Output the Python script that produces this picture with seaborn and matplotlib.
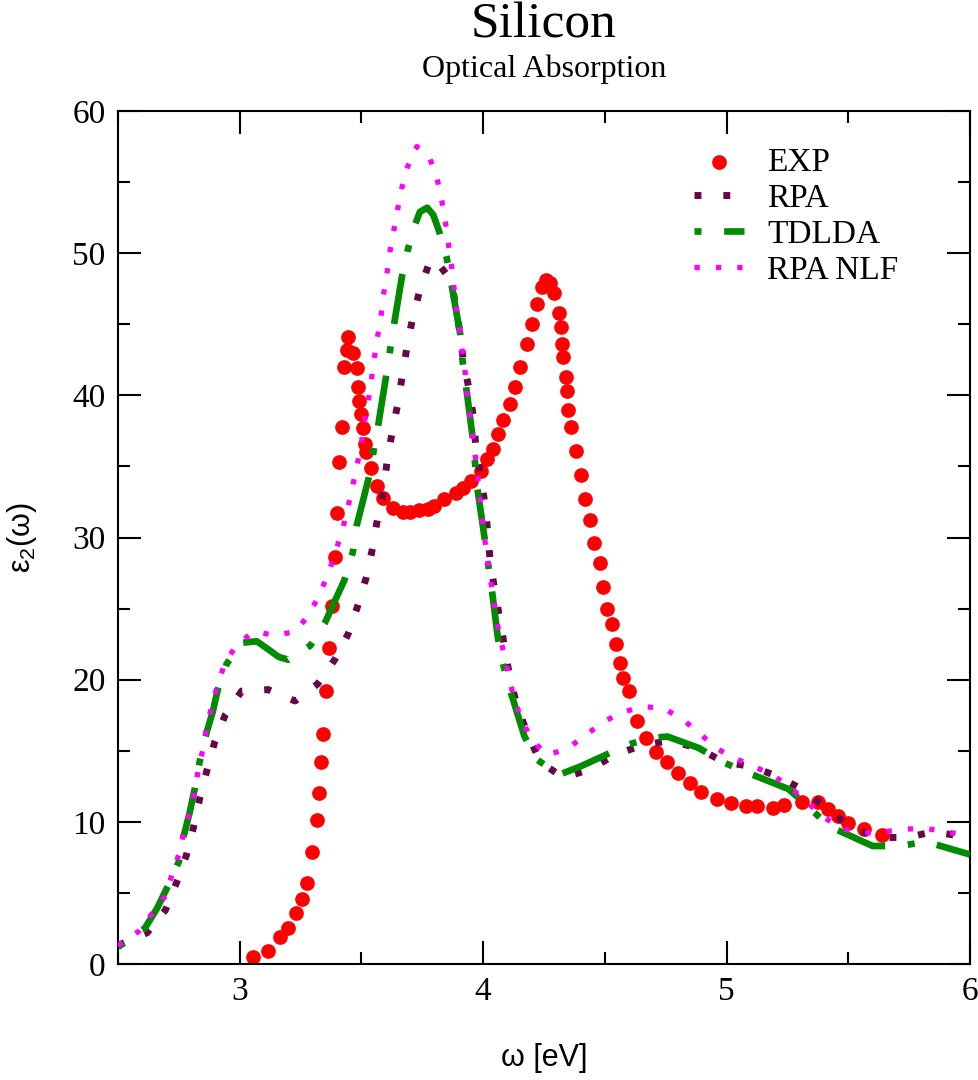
import matplotlib
matplotlib.use("Agg")
import matplotlib.pyplot as plt
import seaborn as sns
from matplotlib.ticker import MultipleLocator

# experimental points (omega in eV, eps2)
exp_w = [3.055, 3.115, 3.165, 3.20, 3.23, 3.255, 3.276, 3.296, 3.317, 3.325,
         3.333, 3.342, 3.354, 3.366, 3.378, 3.39, 3.40, 3.407, 3.42, 3.43,
         3.44, 3.445, 3.465, 3.48, 3.486, 3.49, 3.50, 3.507, 3.515, 3.52,
         3.54, 3.564, 3.59, 3.63, 3.67, 3.70, 3.737, 3.774, 3.80, 3.84,
         3.89, 3.918, 3.95, 3.99, 4.016, 4.04, 4.06, 4.08, 4.11, 4.13,
         4.15, 4.18, 4.20, 4.22, 4.24, 4.26, 4.275, 4.29, 4.31, 4.32,
         4.322, 4.33, 4.34, 4.345, 4.35, 4.36, 4.38, 4.40, 4.42, 4.44,
         4.457, 4.478, 4.494, 4.51, 4.53, 4.547, 4.564, 4.576, 4.60, 4.634,
         4.67, 4.71, 4.757, 4.80, 4.848, 4.897, 4.96, 5.02, 5.08, 5.126,
         5.19, 5.234, 5.31, 5.374, 5.415, 5.456, 5.497, 5.563, 5.64]
exp_eps = [0.5, 0.9, 1.9, 2.5, 3.6, 4.6, 5.7, 7.9, 10.1, 12.0,
           14.2, 16.2, 19.2, 22.2, 25.2, 28.6, 31.7, 35.3, 37.8, 42.0,
           43.2, 44.1, 43.0, 41.9, 40.6, 39.6, 38.7, 37.7, 36.6, 36.0,
           34.9, 33.6, 32.8, 32.1, 31.8, 31.8, 31.9, 32.0, 32.2, 32.7,
           33.1, 33.5, 34.0, 34.7, 35.5, 36.2, 37.3, 38.3, 39.4, 40.6,
           42.0, 43.6, 45.0, 46.4, 47.6, 48.1, 47.9, 47.2, 45.8, 44.8,
           43.6, 42.7, 41.3, 40.3, 39.0, 37.8, 36.1, 34.4, 32.7, 31.2,
           29.6, 28.2, 26.5, 25.0, 23.9, 22.5, 21.2, 20.1, 19.2, 17.1,
           15.9, 14.9, 14.2, 13.4, 12.7, 12.1, 11.6, 11.3, 11.1, 11.1,
           11.0, 11.2, 11.4, 11.4, 10.9, 10.4, 9.9, 9.5, 9.05]

# RPA
rpa_w = [2.50, 2.62, 2.695, 2.74, 2.78, 2.81, 2.835, 2.865, 2.897, 2.94,
         3.008, 3.117, 3.227, 3.32, 3.39, 3.445, 3.485, 3.52, 3.545, 3.565,
         3.59, 3.605, 3.625, 3.647, 3.667, 3.687, 3.71, 3.74, 3.78, 3.80,
         3.85, 3.88, 3.905, 3.918, 3.94, 3.96, 3.97, 3.99, 4.008, 4.02,
         4.03, 4.05, 4.07, 4.09, 4.11, 4.14, 4.18, 4.235, 4.33, 4.44,
         4.54, 4.655, 4.766, 4.88, 4.99, 5.10, 5.21, 5.32, 5.415, 5.50,
         5.62, 5.74, 5.85, 5.96, 6.0]
rpa_eps = [1.3, 2.2, 3.8, 5.7, 7.6, 9.6, 11.6, 13.6, 15.6, 17.5,
           19.2, 19.3, 18.5, 19.7, 21.4, 23.2, 25.2, 27.2, 29.2, 31.2,
           33.2, 35.3, 37.3, 39.2, 41.3, 43.4, 45.4, 47.4, 49.4, 49.6,
           48.5, 47.0, 44.4, 42.5, 40.6, 38.5, 36.4, 34.3, 32.3, 30.2,
           28.1, 26.1, 24.1, 22.1, 20.1, 18.1, 16.3, 14.2, 13.1, 13.7,
           14.7, 15.4, 15.7, 15.2, 14.2, 13.9, 13.2, 12.2, 10.9, 9.7,
           8.9, 8.9, 9.3, 9.0, 9.0]

# TDLDA
tdlda_w = [2.50, 2.61, 2.66, 2.70, 2.75, 2.77, 2.795, 2.815, 2.835, 2.866,
           2.89, 2.91, 2.946, 3.01, 3.07, 3.12, 3.16, 3.20, 3.29, 3.35,
           3.43, 3.465, 3.48, 3.53, 3.548, 3.568, 3.60, 3.617, 3.633, 3.667,
           3.69, 3.72, 3.74, 3.77, 3.795, 3.82, 3.85, 3.87, 3.905, 3.915,
           3.93, 3.955, 3.966, 3.975, 4.004, 4.02, 4.036, 4.06, 4.08, 4.11,
           4.17, 4.22, 4.31, 4.40, 4.49, 4.59, 4.687, 4.757, 4.885, 4.985,
           5.08, 5.255, 5.34, 5.42, 5.60, 5.71, 5.82, 6.0]
tdlda_eps = [1.2, 2.5, 3.9, 5.3, 7.2, 9.0, 10.7, 12.3, 14.2, 16.4,
             17.8, 19.3, 21.1, 22.6, 22.7, 22.1, 21.6, 21.4, 22.4, 24.0,
             27.0, 29.0, 30.8, 34.2, 35.9, 37.8, 41.2, 43.1, 44.9, 48.4,
             50.2, 52.0, 52.9, 53.2, 52.7, 51.5, 49.7, 47.8, 44.4, 42.5,
             40.6, 37.3, 35.4, 33.6, 30.2, 28.2, 26.3, 23.0, 21.2, 19.3,
             16.0, 14.4, 13.3, 13.9, 14.6, 15.4, 15.9, 16.0, 15.2, 14.2,
             13.5, 12.3, 11.0, 9.7, 8.3, 8.3, 8.6, 7.7]

# RPA without local fields
nlf_w = [2.50, 2.585, 2.695, 2.72, 2.75, 2.77, 2.795, 2.815, 2.83, 2.85,
         2.865, 2.886, 2.91, 2.94, 2.99, 3.06, 3.145, 3.23, 3.285, 3.325,
         3.363, 3.42, 3.44, 3.46, 3.48, 3.498, 3.51, 3.527, 3.54, 3.552,
         3.565, 3.58, 3.59, 3.605, 3.617, 3.633, 3.65, 3.666, 3.69, 3.728,
         3.78, 3.81, 3.83, 3.845, 3.857, 3.87, 3.88, 3.89, 3.905, 3.915,
         3.927, 3.935, 3.947, 3.963, 3.98, 3.99, 4.0, 4.012, 4.025, 4.053,
         4.066, 4.09, 4.107, 4.128, 4.16, 4.20, 4.26, 4.34, 4.415, 4.49,
         4.57, 4.655, 4.74, 4.82, 4.885, 4.955, 5.03, 5.11, 5.19, 5.27,
         5.33, 5.40, 5.48, 5.56, 5.645, 5.74, 5.83, 5.91, 6.0]
nlf_eps = [1.3, 2.3, 4.8, 6.2, 7.7, 9.3, 10.7, 12.1, 13.7, 15.2,
           16.7, 18.2, 19.7, 21.2, 22.5, 23.4, 23.1, 23.4, 24.6, 25.9,
           27.4, 30.4, 31.8, 33.3, 34.9, 36.4, 37.9, 39.5, 41.0, 42.5,
           44.0, 45.5, 47.0, 48.6, 50.1, 51.6, 53.2, 54.6, 56.1, 57.5,
           56.7, 55.3, 53.7, 52.2, 50.7, 49.1, 47.6, 46.1, 44.5, 43.0,
           41.5, 39.9, 38.4, 36.4, 33.9, 32.2, 30.7, 29.2, 27.6, 24.6,
           23.1, 21.6, 20.1, 18.6, 17.1, 15.8, 14.7, 15.1, 16.0, 17.0,
           17.7, 18.1, 18.0, 17.2, 16.3, 15.2, 14.5, 13.9, 13.3, 12.3,
           11.4, 10.3, 9.5, 9.2, 9.3, 9.5, 9.5, 9.3, 8.9]

sns.set_theme(style="white")
plt.rcParams['font.family'] = ['Liberation Serif', 'DejaVu Serif']
plt.rcParams['mathtext.default'] = 'regular'
plt.rcParams['text.color'] = 'black'
plt.rcParams['axes.labelcolor'] = 'black'
plt.rcParams['xtick.color'] = 'black'
plt.rcParams['ytick.color'] = 'black'

fig = plt.figure(figsize=(9.79, 10.8), dpi=100)
ax = fig.add_axes([118/979, 1 - 964/1080, 852/979, 853/1080])

sns.scatterplot(x=exp_w, y=exp_eps, ax=ax, color='#ff0000', s=112,
                linewidth=0, label='EXP', zorder=2)
sns.lineplot(x=rpa_w, y=rpa_eps, ax=ax, color='#670748', lw=5,
             linestyle=(0, (1, 3.15)), sort=False, estimator=None,
             label='RPA', zorder=3)
sns.lineplot(x=tdlda_w, y=tdlda_eps, ax=ax, color='#008b00', lw=4.8,
             linestyle=(0, (1.05, 3.4, 7.6, 3.4)), sort=False, estimator=None,
             label='TDLDA', zorder=4)
sns.lineplot(x=nlf_w, y=nlf_eps, ax=ax, color='#ff00ff', lw=3.8,
             linestyle=(0, (1, 3.05)), sort=False, estimator=None,
             label='RPA NLF', zorder=5)

ax.set_xlim(2.5, 6)
ax.set_ylim(0, 60)
ax.xaxis.set_major_locator(MultipleLocator(1))
ax.xaxis.set_minor_locator(MultipleLocator(0.5))
ax.yaxis.set_major_locator(MultipleLocator(10))
ax.yaxis.set_minor_locator(MultipleLocator(5))
ax.tick_params(which='both', direction='in', top=True, right=True,
               bottom=True, left=True, width=1.5, color='black',
               labelcolor='black', labelsize=24, pad=9)
ax.tick_params(which='major', length=16.5)
ax.tick_params(which='minor', length=8.5)
for sp in ax.spines.values():
    sp.set_linewidth(1.5)
    sp.set_color('black')
ax.grid(False)

ax.set_xlabel('ω [eV]', family='Liberation Sans', fontsize=22, labelpad=26)
ax.set_ylabel('ε$_2$(ω)', family='Liberation Sans', fontsize=22, labelpad=24)

fig.text(544/979, 1 - 37/1080, 'Silicon', fontsize=37, ha='center', va='baseline')
fig.text(544/979, 1 - 77/1080, 'Optical Absorption', fontsize=23, ha='center', va='baseline')

leg = ax.legend(loc='upper left', bbox_to_anchor=(0.676, 0.957), frameon=False,
                fontsize=24, handlelength=1.5, handletextpad=0.7,
                labelspacing=0.16, borderpad=0, borderaxespad=0,
                scatterpoints=1)

fig.savefig('out.png', dpi=100, facecolor='white')
